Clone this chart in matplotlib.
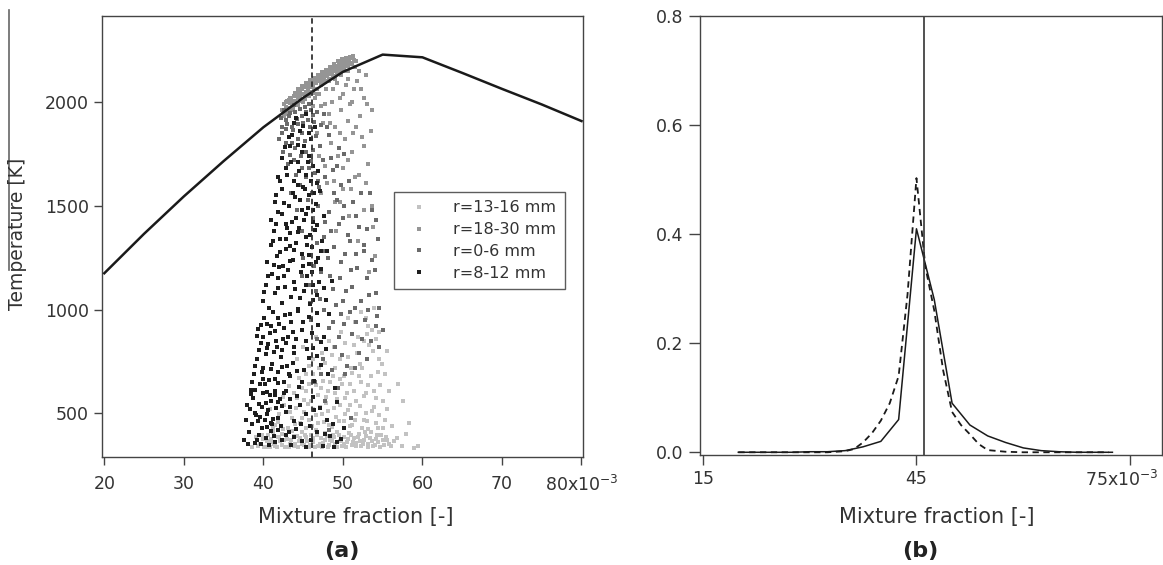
import matplotlib
matplotlib.use("Agg")
import matplotlib.pyplot as plt
import matplotlib.transforms as mtransforms
from matplotlib.lines import Line2D

# ---- panel (a): flamelet temperature vs mixture fraction (x in 1e-3 units)
flame_z = [20, 25, 30, 35, 40, 45, 50, 55, 60, 65, 70, 75, 80]
flame_T = [1175, 1365, 1545, 1715, 1878, 2020, 2145, 2228, 2215, 2140, 2063, 1988, 1908]
z_stoich = 46.1

# scatter samples, (mixture fraction x1e3, T)
pts_r13_16 = [
    (39.6, 352), (40.0, 378), (40.3, 340), (40.6, 395), (40.9, 360), (41.2, 410), (41.5, 345), (41.8, 385),
    (42.1, 365), (42.4, 402), (42.7, 338), (43.0, 375), (43.3, 355), (43.6, 415), (43.9, 342), (44.2, 390),
    (44.5, 368), (44.8, 408), (45.1, 350), (45.4, 385), (45.7, 340), (46.0, 398), (46.3, 362), (46.6, 418),
    (46.9, 345), (47.2, 380), (47.5, 358), (47.8, 404), (48.1, 340), (48.4, 372), (48.7, 395), (49.0, 352),
    (49.3, 412), (49.6, 365), (49.9, 342), (50.2, 388), (50.5, 360), (50.8, 405), (51.1, 348), (51.4, 380),
    (51.7, 358), (52.0, 400), (52.3, 342), (52.6, 372), (52.9, 390), (53.2, 355), (53.5, 410), (53.8, 345),
    (54.1, 378), (54.4, 362), (54.8, 395), (55.2, 350), (55.6, 372), (56.1, 345), (38.6, 340), (39.1, 385),
    (57.4, 345), (58.9, 335), (56.8, 380),
    (39.3, 345), (39.8, 395), (40.1, 340), (40.5, 365), (40.8, 338), (41.0, 378), (41.3, 355), (41.7, 340),
    (42.0, 388), (42.3, 350), (42.6, 372), (42.9, 398), (43.2, 340), (43.5, 370), (43.8, 392), (44.0, 355),
    (44.3, 338), (44.6, 380), (44.9, 352), (45.2, 398), (45.5, 365), (45.9, 346), (46.2, 380), (46.5, 340),
    (46.8, 396), (47.1, 355), (47.4, 338), (47.7, 372), (48.0, 390), (48.3, 350), (48.6, 368), (48.9, 385),
    (49.2, 340), (49.5, 395), (49.8, 370), (50.1, 352), (50.4, 338), (50.7, 378), (51.0, 395), (51.3, 360),
    (51.6, 342), (51.9, 385), (52.2, 368), (52.5, 352), (52.8, 408), (53.1, 338), (53.4, 382), (53.7, 365),
    (54.0, 350), (54.3, 398), (54.7, 340), (55.0, 372), (55.4, 388), (55.8, 355), (56.4, 368),
    (40.2, 470), (40.8, 520), (41.4, 445), (42.0, 495), (42.6, 540), (43.1, 430), (43.6, 480), (44.1, 525),
    (44.6, 455), (45.1, 505), (45.6, 545), (46.1, 440), (46.6, 490), (47.1, 530), (47.6, 460), (48.1, 510),
    (48.6, 435), (49.1, 485), (49.6, 540), (50.1, 465), (50.6, 515), (51.1, 445), (51.6, 495), (52.1, 535),
    (52.6, 470), (53.1, 425), (53.6, 510), (54.1, 455), (54.6, 490), (55.1, 430), (55.6, 520), (43.9, 465),
    (47.9, 548), (50.9, 438), (52.9, 500), (58.3, 455), (45.8, 470),
    (41.2, 430), (41.9, 458), (42.5, 425), (43.3, 505), (44.0, 448), (44.8, 480), (45.4, 428), (46.3, 522),
    (46.9, 455), (47.4, 498), (48.3, 445), (48.9, 528), (49.5, 462), (50.3, 495), (50.9, 540), (51.5, 468),
    (52.4, 428), (53.0, 462), (53.9, 530), (54.4, 432), (55.3, 470), (56.2, 440),
    (42.5, 580), (43.2, 630), (43.9, 600), (44.5, 670), (45.1, 565), (45.7, 640), (46.3, 690), (46.9, 590),
    (47.5, 655), (48.1, 610), (48.7, 680), (49.3, 570), (49.9, 640), (50.5, 600), (51.1, 695), (51.7, 560),
    (52.3, 650), (52.9, 600), (53.5, 680), (54.1, 575), (54.7, 635), (55.3, 690), (56.9, 640), (44.8, 620),
    (50.2, 680),
    (44.2, 575), (45.3, 610), (46.0, 560), (46.6, 635), (47.2, 620), (47.9, 580), (48.4, 650), (49.0, 600),
    (49.6, 665), (50.3, 575), (50.9, 640), (51.4, 610), (52.0, 680), (52.6, 585), (53.2, 635), (53.9, 610),
    (54.4, 700), (55.0, 560), (55.8, 610),
    (44.2, 760), (45.0, 820), (45.8, 730), (46.6, 870), (47.4, 790), (48.2, 850), (49.0, 720), (49.8, 890),
    (50.6, 770), (51.4, 830), (52.2, 740), (53.0, 880), (53.8, 800), (54.5, 760), (52.6, 850), (48.6, 780),
    (45.4, 690), (46.2, 760), (47.0, 720), (47.8, 745), (48.9, 820), (49.6, 760), (50.3, 840), (51.0, 720),
    (51.8, 790), (52.4, 720), (53.3, 830), (54.1, 860), (54.9, 740), (55.6, 800),
    (51.5, 940), (52.3, 990), (53.1, 920), (53.9, 1010), (50.6, 960), (54.6, 890), (52.9, 960), (53.6, 900),
    (51.9, 870), (57.6, 560), (59.4, 345), (57.9, 400),
]

pts_r18_30 = [
    (42.4, 1960), (42.6, 1990), (42.8, 1975), (43.0, 2005), (43.1, 1970), (43.3, 1995), (43.5, 2015),
    (43.6, 1985), (43.8, 2030), (44.0, 2005), (44.1, 2040), (44.3, 2020), (44.5, 2050), (44.6, 2025),
    (44.8, 2060), (45.0, 2040), (45.1, 2070), (45.3, 2050), (45.5, 2080), (45.6, 2060), (45.8, 2090),
    (46.0, 2070), (46.1, 2100), (46.3, 2080), (46.5, 2110), (46.6, 2090), (46.8, 2115), (47.0, 2100),
    (47.1, 2125), (47.3, 2105), (47.5, 2135), (47.6, 2115), (47.8, 2140), (48.0, 2125), (48.1, 2150),
    (48.3, 2135), (48.5, 2160), (48.6, 2140), (48.8, 2165), (49.0, 2150), (49.1, 2175), (49.3, 2155),
    (49.5, 2180), (49.6, 2165), (49.8, 2190), (50.0, 2170), (50.1, 2195), (50.3, 2180), (50.5, 2200),
    (50.6, 2185), (50.8, 2205), (51.0, 2190), (51.2, 2210), (51.4, 2200), (42.7, 1950), (43.9, 2000),
    (45.2, 2030), (46.4, 2060), (47.7, 2095), (48.9, 2125), (50.2, 2150),
    (42.5, 1945), (42.9, 2000), (43.2, 1950), (43.4, 2020), (43.7, 1965), (44.0, 2045), (44.2, 1990),
    (44.4, 2060), (44.7, 2005), (44.9, 2075), (45.2, 2015), (45.4, 2090), (45.7, 2030), (45.9, 2105),
    (46.2, 2045), (46.4, 2115), (46.7, 2060), (46.9, 2130), (47.2, 2080), (47.4, 2145), (47.7, 2100),
    (47.9, 2155), (48.2, 2110), (48.4, 2170), (48.7, 2125), (48.9, 2185), (49.2, 2140), (49.4, 2195),
    (49.7, 2150), (49.9, 2205), (50.2, 2165), (50.4, 2210), (50.7, 2175), (50.9, 2215), (51.1, 2185),
    (51.3, 2220), (51.6, 2195), (42.6, 1930), (43.0, 1940), (43.5, 1960), (44.3, 1985), (45.0, 2000),
    (45.8, 2050), (46.7, 2040), (47.4, 2085), (48.3, 2100), (49.0, 2110), (49.8, 2130), (50.6, 2150),
    (51.5, 2170), (43.2, 2010), (44.6, 2045), (46.0, 2095), (47.3, 2130), (48.7, 2160), (50.1, 2190),
    (46.5, 2020), (47.2, 1980), (47.9, 2060), (48.6, 2000), (49.3, 2090), (50.0, 2040), (50.7, 2110),
    (51.4, 2060), (52.0, 2150), (52.6, 2020), (48.2, 1940), (49.0, 1880), (49.8, 1960), (50.6, 1910),
    (51.3, 1850), (52.1, 1930), (53.0, 1990), (47.5, 1900), (46.8, 1850), (48.5, 1800), (49.4, 1740),
    (50.3, 1820), (51.2, 1760), (52.4, 1830), (53.1, 1700), (47.8, 1690), (48.9, 1620), (50.0, 1680),
    (51.0, 1580), (52.0, 1650), (53.4, 1560), (49.6, 1520), (47.2, 1560), (50.8, 1450), (52.7, 1480),
    (53.8, 1400), (51.9, 1330), (54.0, 1260), (53.3, 1180), (49.1, 1380),
    (46.2, 1980), (47.0, 2040), (47.8, 1990), (48.8, 2060), (49.6, 2020), (50.4, 2080), (51.1, 2000),
    (51.8, 2100), (52.3, 2060), (52.9, 2130), (53.6, 1960), (48.4, 1900), (49.6, 1850), (50.9, 1990),
    (51.7, 1880), (52.6, 1790), (53.5, 1860), (47.0, 1740), (48.0, 1610), (49.0, 1520), (50.6, 1720),
    (51.5, 1640), (52.9, 1610), (53.7, 1500), (50.0, 1580),
]

pts_r0_6 = [
    (42.2, 1925), (42.6, 1960), (43.0, 1895), (43.4, 1945), (43.8, 1985), (44.2, 1920), (44.6, 1965),
    (45.0, 1900), (45.4, 1950), (45.8, 1990), (46.2, 1935), (42.9, 1870), (43.7, 1865), (44.9, 1850),
    (45.9, 1880),
    (42.4, 1880), (42.8, 1915), (43.2, 1930), (43.6, 1880), (44.0, 1950), (44.4, 1895), (44.8, 1930),
    (45.2, 1975), (45.6, 1915), (46.0, 1960), (46.4, 1905), (46.8, 1950), (47.2, 1890), (47.6, 1940),
    (48.0, 1880),
    (42.0, 1820), (42.5, 1760), (43.1, 1700), (43.6, 1800), (44.1, 1650), (44.7, 1740), (45.2, 1810),
    (45.7, 1680), (46.3, 1770), (46.9, 1620), (47.5, 1720), (48.2, 1840), (48.8, 1670), (49.5, 1780),
    (44.0, 1780), (46.6, 1835),
    (42.3, 1850), (42.8, 1800), (43.3, 1745), (43.9, 1720), (44.4, 1820), (44.9, 1680), (45.4, 1760),
    (46.0, 1715), (46.5, 1660), (47.1, 1790), (47.8, 1640), (48.5, 1730), (49.2, 1690), (50.1, 1750),
    (50.8, 1620), (44.6, 1600), (45.3, 1640),
    (43.5, 1560), (44.2, 1480), (44.9, 1380), (45.6, 1530), (46.3, 1440), (47.0, 1590), (47.6, 1350),
    (48.2, 1470), (48.9, 1560), (49.5, 1410), (50.2, 1500), (50.9, 1330), (51.6, 1450), (52.3, 1560),
    (53.0, 1390), (53.6, 1480), (46.8, 1320), (49.8, 1600),
    (46.1, 1560), (46.9, 1500), (47.7, 1420), (48.5, 1380), (49.2, 1530), (50.0, 1440), (50.6, 1360),
    (51.3, 1520), (52.0, 1400), (52.7, 1310), (53.4, 1560), (54.1, 1430), (54.4, 1340),
    (45.0, 1250), (45.7, 1120), (46.4, 1210), (47.1, 1050), (47.8, 1280), (48.4, 1160), (49.1, 1020),
    (49.7, 1230), (50.4, 1090), (51.0, 1190), (51.7, 1270), (52.3, 1040), (53.0, 1150), (53.6, 1240),
    (54.2, 1080), (48.8, 1100), (51.5, 1010), (47.3, 1180),
    (48.1, 1250), (48.9, 1300), (49.6, 1150), (50.3, 1270), (51.1, 1110), (51.8, 1200), (52.6, 1280),
    (53.3, 1070), (54.0, 1190), (54.6, 1010), (50.0, 1040), (45.9, 1030), (46.6, 1090), (44.8, 1160),
    (46.0, 950), (46.8, 860), (47.5, 760), (48.3, 910), (49.0, 820), (49.8, 980), (50.5, 730),
    (51.2, 880), (52.0, 790), (52.8, 950), (53.5, 850), (54.1, 920), (48.6, 710), (50.9, 990),
    (47.6, 1000), (48.7, 940), (49.5, 870), (50.2, 930), (51.7, 940), (52.4, 860), (53.2, 1000),
    (54.3, 970), (55.0, 900), (49.9, 780), (51.5, 720), (53.0, 760), (54.6, 820), (47.2, 690),
    (46.5, 650), (47.8, 560), (49.4, 620), (51.0, 480), (48.2, 420), (50.3, 690),
]

pts_r8_12 = [
    (37.6, 372), (38.2, 410), (38.9, 356), (39.4, 398), (39.8, 430), (40.3, 380), (40.9, 415), (41.5, 362),
    (42.2, 440), (42.8, 395), (43.5, 350), (44.1, 425), (45.3, 338), (46.0, 372), (46.8, 410), (47.5, 345),
    (48.4, 392), (49.2, 360), (50.1, 430), (48.9, 338), (44.7, 447), (41.1, 448),
    (38.1, 352), (38.6, 447), (39.2, 371), (39.7, 352), (40.4, 433), (40.7, 348), (41.3, 389), (41.9, 421),
    (42.4, 371), (43.2, 412), (43.8, 384), (44.9, 366), (47.7, 402), (48.7, 451), (49.8, 378), (45.9, 441),
    (37.8, 468), (38.3, 520), (38.7, 575), (39.1, 490), (39.5, 545), (39.9, 598), (40.2, 470), (40.6, 515),
    (41.0, 560), (41.4, 590), (41.8, 480), (42.3, 535), (42.9, 505), (43.4, 570), (43.9, 462), (44.6, 540),
    (45.4, 498), (46.2, 580), (47.1, 525), (48.0, 470), (49.3, 555), (40.9, 455), (39.3, 462), (42.6, 600),
    (38.9, 503), (39.6, 482), (40.3, 548), (40.8, 587), (41.6, 527), (42.1, 571), (37.9, 541), (38.5, 594),
    (39.0, 611), (39.8, 533), (40.4, 498), (41.2, 472), (41.9, 556), (43.3, 529), (44.2, 583), (46.4, 518),
    (38.4, 615), (38.8, 690), (39.2, 760), (39.6, 640), (40.0, 720), (40.3, 785), (40.7, 660), (41.1, 740),
    (41.5, 610), (41.8, 700), (42.2, 770), (42.6, 650), (43.0, 730), (43.4, 680), (43.9, 790), (44.5, 625),
    (45.1, 710), (45.7, 765), (46.4, 655), (47.2, 735), (48.1, 690), (49.0, 620), (39.9, 665), (41.3, 795),
    (40.5, 605), (42.9, 610),
    (38.6, 652), (38.9, 728), (39.4, 807), (39.8, 698), (40.2, 642), (40.6, 832), (40.9, 712), (41.4, 668),
    (41.7, 818), (41.9, 648), (42.4, 722), (42.8, 838), (43.2, 688), (43.7, 742), (44.2, 702), (44.9, 652),
    (45.5, 808), (46.7, 778), (47.9, 812),
    (39.3, 905), (39.7, 840), (40.1, 960), (40.5, 815), (40.8, 885), (41.2, 990), (41.6, 850), (42.0, 930),
    (42.3, 805), (42.7, 975), (43.1, 870), (43.5, 940), (43.9, 820), (44.3, 995), (44.8, 900), (45.3, 850),
    (45.8, 965), (46.3, 815), (46.9, 925), (47.6, 870), (48.3, 980), (41.0, 920), (43.7, 890), (42.5, 860),
    (39.2, 875), (39.7, 925), (40.0, 868), (40.4, 932), (41.4, 897), (41.8, 958), (42.6, 912), (43.3, 981),
    (44.1, 860), (45.0, 938), (46.1, 888), (46.7, 985), (47.2, 842),
    (39.9, 1040), (40.3, 1120), (40.7, 1010), (41.1, 1170), (41.5, 1080), (41.9, 1150), (42.3, 1030),
    (42.7, 1110), (43.1, 1190), (43.5, 1060), (43.9, 1135), (44.3, 1005), (44.7, 1180), (45.1, 1090),
    (45.5, 1160), (45.9, 1025), (46.3, 1120), (46.7, 1070), (47.2, 1195), (47.9, 1045), (48.6, 1140),
    (44.0, 1100), (46.1, 1180),
    (40.1, 1085), (40.6, 1162), (41.3, 1215), (41.8, 1105), (42.1, 1278), (42.6, 1160), (43.4, 1232),
    (43.9, 1285), (44.6, 1058), (45.0, 1212), (45.4, 1118), (45.8, 1265), (46.3, 1045), (46.6, 1228),
    (47.0, 1132), (47.6, 1102), (42.0, 1205), (43.4, 1305),
    (40.4, 1230), (40.9, 1310), (41.3, 1380), (41.7, 1260), (42.1, 1340), (42.5, 1210), (42.9, 1290),
    (43.3, 1370), (43.7, 1240), (44.1, 1320), (44.5, 1395), (44.9, 1270), (45.3, 1350), (45.7, 1220),
    (46.1, 1300), (46.5, 1385), (46.9, 1250), (47.4, 1330), (48.0, 1280), (45.9, 1360), (43.0, 1395),
    (41.2, 1332), (41.6, 1412), (42.4, 1458), (42.9, 1342), (43.6, 1422), (44.3, 1372), (45.1, 1432),
    (45.5, 1312), (46.2, 1478), (46.8, 1405), (47.3, 1282), (44.8, 1478),
    (41.0, 1430), (41.4, 1520), (41.9, 1470), (42.3, 1580), (42.8, 1410), (43.2, 1500), (43.7, 1560),
    (44.1, 1440), (44.6, 1530), (45.0, 1590), (45.4, 1460), (45.8, 1550), (46.2, 1420), (46.6, 1510),
    (47.1, 1570), (47.6, 1450), (45.6, 1490), (44.3, 1600),
    (41.6, 1552), (42.1, 1620), (42.6, 1512), (43.0, 1648), (43.5, 1712), (44.0, 1540), (44.5, 1668),
    (45.2, 1580), (45.6, 1712), (46.0, 1620), (46.4, 1562), (46.9, 1668),
    (41.8, 1640), (42.3, 1730), (42.8, 1680), (43.3, 1790), (43.8, 1620), (44.3, 1710), (44.8, 1760),
    (45.3, 1650), (45.8, 1740), (46.3, 1690), (46.8, 1610), (45.1, 1790), (42.7, 1782),
    (43.2, 1830), (43.9, 1900), (44.6, 1860), (45.4, 1940), (46.0, 1820), (46.5, 1880), (43.6, 1842),
    (44.4, 1795), (45.0, 1885), (45.7, 1850), (44.1, 1922),
]

groups = [
    ("r=13-16 mm", pts_r13_16, "#c2c2c2"),
    ("r=18-30 mm", pts_r18_30, "#959595"),
    ("r=0-6 mm", pts_r0_6, "#6a6a6a"),
    ("r=8-12 mm", pts_r8_12, "#1e1e1e"),
]

# ---- panel (b): PDFs of mixture fraction
pdf_z_solid = [20, 22.5, 25, 27.5, 30, 32.5, 35, 37.5, 40, 42.5, 45, 47.5, 50, 52.5, 55, 57.5, 60,
               62.5, 65, 67.5, 70, 72.5]
pdf_solid = [0, 0, 0, 0, 0.001, 0.001, 0.003, 0.01, 0.02, 0.06, 0.41, 0.28, 0.09, 0.05, 0.03, 0.018,
             0.008, 0.003, 0.001, 0, 0, 0]
pdf_z_dash = [20, 25, 30, 32.5, 35, 36.25, 37.5, 38.75, 40, 41.25, 42.5, 43.75, 45, 46.25, 47.5, 48.75,
              50, 51.25, 52.5, 53.75, 55, 57.5, 60, 65, 70, 72]
pdf_dash = [0, 0, 0, 0, 0.002, 0.006, 0.018, 0.035, 0.058, 0.09, 0.14, 0.29, 0.503, 0.34, 0.26, 0.15,
            0.074, 0.05, 0.033, 0.015, 0.004, 0.001, 0, 0, 0, 0]

W, H = 1163, 565
fig = plt.figure(figsize=(W / 100, H / 100), dpi=100)
axc = "#444444"

ax1 = fig.add_axes([102.4 / W, 1 - 457 / H, 480.2 / W, 440.8 / H])
ax2 = fig.add_axes([699.7 / W, 1 - 455 / H, 462.3 / W, 438.8 / H])

for label, pts, col in groups:
    xs = [p[0] for p in pts]
    ts = [p[1] for p in pts]
    ax1.plot(xs, ts, ls="none", marker="s", ms=3.0, mew=0, color=col, label=label)

ax1.plot(flame_z, flame_T, color="#1a1a1a", lw=1.8, zorder=5)
ax1.axvline(z_stoich, color="#333333", lw=1.3, dashes=(3, 2), zorder=6)
ax1.set_xlim(19.76, 80.14)
ax1.set_ylim(290, 2413)
ax1.set_xticks([20, 30, 40, 50, 60, 70, 80])
ax1.set_xticklabels(["20", "30", "40", "50", "60", "70", "80x10$^{-3}$"])
ax1.set_yticks([500, 1000, 1500, 2000])
ax1.tick_params(axis="x", direction="out", length=5.5, width=1, pad=7.5, labelsize=12.5,
                colors=axc, labelcolor="#333333")
ax1.tick_params(axis="y", direction="out", length=6, width=1, pad=3.8, labelsize=12.5,
                colors=axc, labelcolor="#333333")

leg = ax1.legend(loc="upper left", bbox_to_anchor=(0.607, 0.602), borderaxespad=0,
                 fontsize=11.5, frameon=True, fancybox=False, handlelength=2.05,
                 handletextpad=1.1, borderpad=0.55, labelspacing=0.42, markerscale=1.0)
leg.get_frame().set_edgecolor("#333333")
leg.get_frame().set_linewidth(1.0)
for t in leg.get_texts():
    t.set_color("#333333")

ax2.plot(pdf_z_solid, pdf_solid, color="#1a1a1a", lw=1.1)
ax2.plot(pdf_z_dash, pdf_dash, color="#1a1a1a", lw=1.3, dashes=(3.5, 2.5))
ax2.axvline(z_stoich, color="#333333", lw=1.2)
ax2.set_xlim(14.58, 79.46)
ax2.set_ylim(-0.005, 0.8)
ax2.set_xticks([15, 45, 75])
ax2.set_xticklabels(["15", "45", "75x10$^{-3}$"])
ax2.set_yticks([0.0, 0.2, 0.4, 0.6, 0.8])
ax2.set_yticklabels(["0.0", "0.2", "0.4", "0.6", "0.8"])
ax2.tick_params(axis="x", direction="out", length=7.5, width=1, pad=3, labelsize=12.5,
                colors=axc, labelcolor="#333333")
ax2.tick_params(axis="y", direction="out", length=8, width=1, pad=3.6, labelsize=12.5,
                colors=axc, labelcolor="#333333")

# keep the last tick label of (b) inside the picture
last = ax2.xaxis.get_major_ticks()[2].label1
last.set_transform(last.get_transform() + mtransforms.ScaledTranslation(-6 / 72, 0, fig.dpi_scale_trans))

for ax in (ax1, ax2):
    for sp in ax.spines.values():
        sp.set_color(axc)
        sp.set_linewidth(1.0)

# axis titles and panel letters
fig.text(356 / W, 1 - 517 / H, "Mixture fraction [-]", ha="center", va="center", fontsize=15, color="#333333")
fig.text(937 / W, 1 - 517 / H, "Mixture fraction [-]", ha="center", va="center", fontsize=15, color="#333333")
fig.text(17.5 / W, 1 - 234 / H, "Temperature [K]", ha="center", va="center", rotation=90,
         fontsize=13.5, color="#333333")
fig.text(342 / W, 1 - 551 / H, "(a)", ha="center", va="center", fontsize=16, fontweight="bold", color="#222222")
fig.text(920 / W, 1 - 551 / H, "(b)", ha="center", va="center", fontsize=16, fontweight="bold", color="#222222")

# stray scan line left of the y label
fig.add_artist(Line2D([9.3 / W, 9.3 / W], [1 - 10 / H, 1 - 270 / H], color="#666666", lw=1.2))

fig.savefig("out.png", dpi=100)
